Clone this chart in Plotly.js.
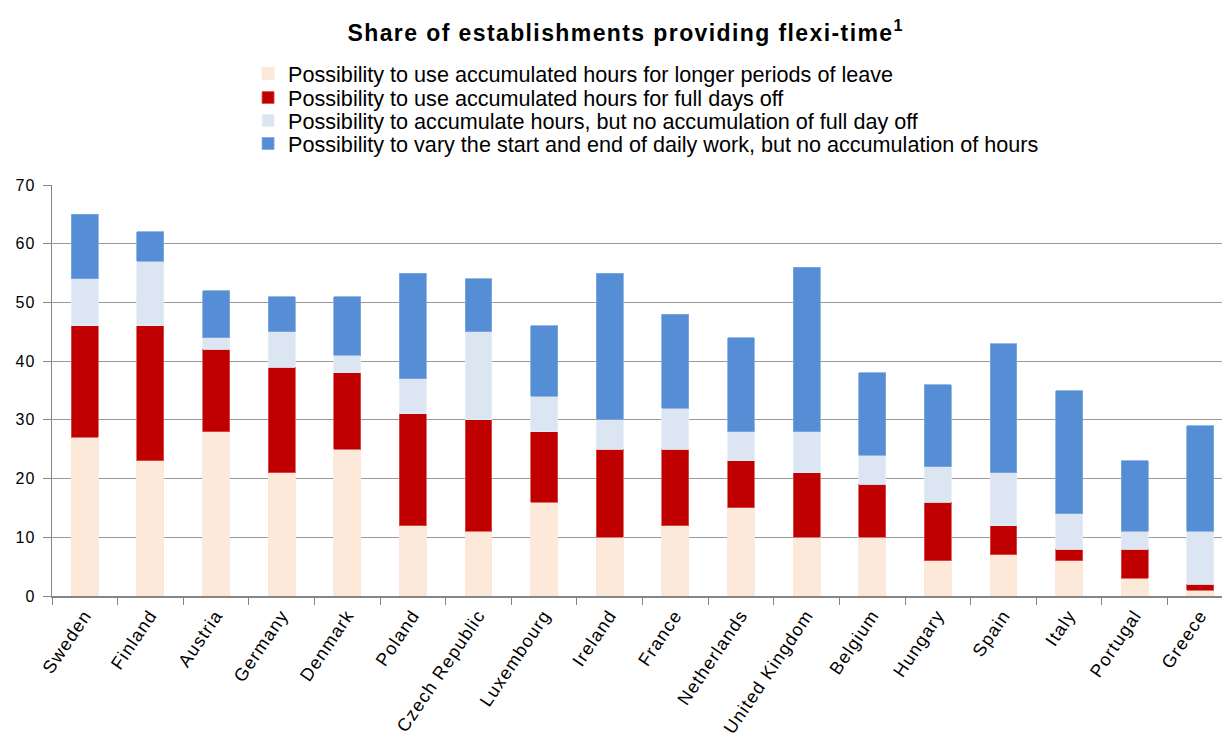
<!DOCTYPE html>
<html>
<head>
<meta charset="utf-8">
<script src="https://cdn.plot.ly/plotly-3.0.1.min.js"></script>
<style>
html,body{margin:0;padding:0;background:#fff;}
#chart{width:1222px;height:753px;}
#chart .gtitle{letter-spacing:1.4px;}
#chart .xtick text{letter-spacing:1.2px;}
#chart .ytick text{letter-spacing:1px;}
</style>
</head>
<body>
<div id="chart"></div>
<script>
const countries = ["Sweden","Finland","Austria","Germany","Denmark","Poland","Czech Republic","Luxembourg","Ireland","France","Netherlands","United Kingdom","Belgium","Hungary","Spain","Italy","Portugal","Greece"];
const longerLeave = [27,23,28,21,25,12,11,16,10,12,15,10,10,6,7,6,3,1];
const fullDaysOff = [19,23,14,18,13,19,19,12,15,13,8,11,9,10,5,2,5,1];
const accumNoFullDay = [8,11,2,6,3,6,15,6,5,7,5,7,5,6,9,6,3,9];
const varyStartEnd = [11,5,8,6,10,18,9,12,25,16,16,28,14,14,22,21,12,18];
const seriesNames = [
  "Possibility to use accumulated hours for longer periods of leave",
  "Possibility to use accumulated hours for full days off",
  "Possibility to accumulate hours, but no accumulation of full day off",
  "Possibility to vary the start and end of daily work, but no accumulation of hours"
];
const colors = ["#FDE9D9","#C00000","#DCE6F2","#558ED5"];
const lineColors = ["#FCE4D6","#D9534F","#E4ECF7","#7FA9E0"];
const legendIds = ["legend","legend2","legend3","legend4"];
const legendRowY = [74, 98, 121, 144];
const vals = [longerLeave, fullDaysOff, accumNoFullDay, varyStartEnd];
const traces = vals.map((v,i)=>({
  type:"bar", x:countries, y:v, name:seriesNames[i], legend:legendIds[i],
  marker:{color:colors[i], line:{color:lineColors[i], width:0.8}},
  width:0.41
}));
const H = 753;
const layout = {
  width:1222, height:H,
  paper_bgcolor:"#fff", plot_bgcolor:"#fff",
  barmode:"stack",
  font:{family:"Liberation Sans, Arial, sans-serif", color:"#000"},
  margin:{l:52, r:0, t:185, b:157, autoexpand:false},
  title:{text:"<b>Share of establishments providing flexi-time<sup>1</sup></b>", font:{size:23, family:"Liberation Sans, Arial, sans-serif"}, x:0.512, xref:"container", xanchor:"center", y:1-33/H, yref:"container", yanchor:"middle"},
  showlegend:true,
  xaxis:{type:"category", range:[-0.5, 17.33], tickangle:-56, tickfont:{size:18}, showline:true, linecolor:"#868686", linewidth:1.5, ticks:"outside", tickson:"boundaries", ticklen:7, tickcolor:"#868686", showgrid:false, automargin:false},
  yaxis:{range:[0,70], dtick:10, tickfont:{size:16}, ticklabelstandoff:4, showline:true, linecolor:"#868686", linewidth:1.5, ticks:"outside", ticklen:8, tickcolor:"#868686", showgrid:true, gridcolor:"#9a9a9a", gridwidth:1.2, zeroline:false, automargin:false}
};
legendIds.forEach((id,i)=>{
  layout[id] = {xref:"container", yref:"container", x:0.203, y:1-legendRowY[i]/H, xanchor:"left", yanchor:"middle", font:{size:21.6}, bgcolor:"rgba(0,0,0,0)", borderwidth:0};
});
Plotly.newPlot("chart", traces, layout, {displayModeBar:false, staticPlot:true});
</script>
</body>
</html>
